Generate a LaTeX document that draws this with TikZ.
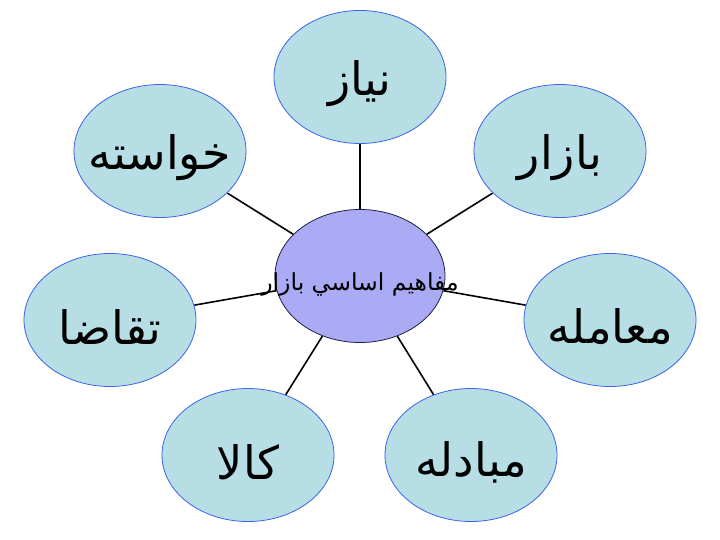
\documentclass[tikz,border=0pt]{standalone}
\usepackage{fontspec}
\newfontfamily\arabicfont[Script=Arabic]{DejaVu Sans}
\TeXXeTstate=1
\usetikzlibrary{shapes.geometric,backgrounds}
\definecolor{leaffill}{RGB}{183,222,229}
\definecolor{leafline}{RGB}{60,100,230}
\definecolor{hubfill}{RGB}{170,170,245}
\definecolor{hubline}{RGB}{30,30,60}
\newcommand{\farsi}[1]{{\arabicfont\beginR #1\endR}}

\begin{document}
\begin{tikzpicture}[x=1pt, y=-1pt,
	leaf/.style={ellipse, draw=leafline, fill=leaffill, line width=0.8pt, minimum width=172pt, minimum height=133pt, inner sep=0pt},
	hub/.style={ellipse, draw=hubline, fill=hubfill, line width=0.8pt, minimum width=170pt, minimum height=133pt, inner sep=0pt},
	link/.style={line width=1.6pt},
	every label/.style={font=\fontsize{46}{52}\selectfont, yshift=-7pt}]
	\useasboundingbox (0,0) rectangle (720,540);

	\node[hub, label={[font=\fontsize{23.5}{28}\selectfont, yshift=-1pt]center:{\arabicfont\beginR مفاهيم اساسي بازار\endR}}] (0) at (360,276) {};
	\node[leaf, label={center:\farsi{نیاز}}] (1) at (360,77) {};
	\node[leaf, label={center:\farsi{بازار}}] (2) at (560,151) {};
	\node[leaf, label={center:\farsi{معامله}}] (3) at (610,320) {};
	\node[leaf, label={center:\farsi{مبادله}}] (4) at (471,455) {};
	\node[leaf, label={center:\farsi{کالا}}] (5) at (248,455) {};
	\node[leaf, label={center:\farsi{تقاضا}}] (6) at (110,320) {};
	\node[leaf, label={center:\farsi{خواسته}}] (7) at (160,151) {};

	\begin{scope}[on background layer]
	\draw[link] (0) -- (1);
	\draw[link] (0) -- (2);
	\draw[link] (0) -- (3);
	\draw[link] (0) -- (4);
	\draw[link] (0) -- (5);
	\draw[link] (0) -- (6);
	\draw[link] (0) -- (7);
	\end{scope}
\end{tikzpicture}
\end{document}
